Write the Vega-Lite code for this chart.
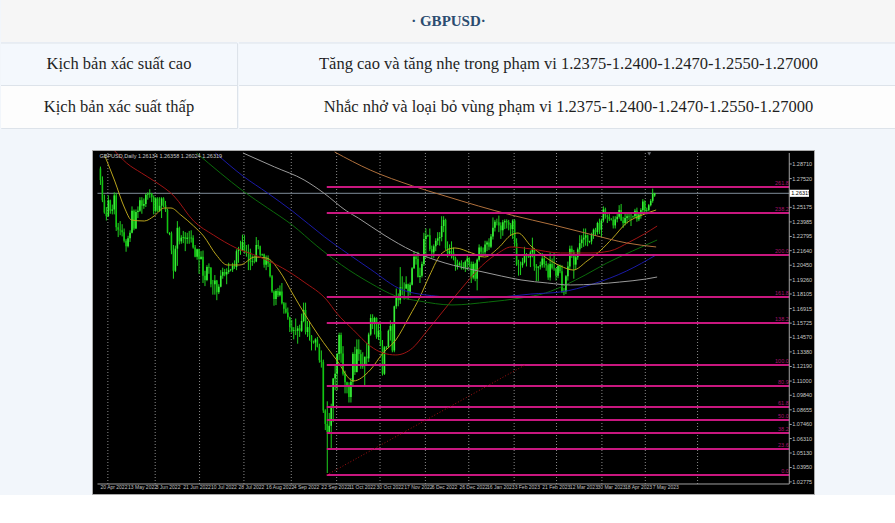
{
"$schema":"https://vega.github.io/schema/vega-lite/v6.json",
"background":"#f2f6fb",
"padding":0,
"config":{"view":{"stroke":null},"font":"Liberation Sans"},
"resolve":{"scale":{"color":"independent"}},
"datasets":{
"bars":[
{"i":0,"o":1.2835,"h":1.285,"l":1.27,"c":1.274},
{"i":1,"o":1.274,"h":1.277,"l":1.256,"c":1.2575},
{"i":2,"o":1.2575,"h":1.262,"l":1.2465,"c":1.2475},
{"i":3,"o":1.2475,"h":1.252,"l":1.241,"c":1.2445},
{"i":4,"o":1.2445,"h":1.2615,"l":1.244,"c":1.2575},
{"i":5,"o":1.2575,"h":1.258,"l":1.2465,"c":1.249},
{"i":6,"o":1.249,"h":1.254,"l":1.246,"c":1.25},
{"i":7,"o":1.25,"h":1.264,"l":1.246,"c":1.2615},
{"i":8,"o":1.2615,"h":1.2635,"l":1.2325,"c":1.2355},
{"i":9,"o":1.2355,"h":1.239,"l":1.2275,"c":1.2335},
{"i":10,"o":1.2335,"h":1.2405,"l":1.229,"c":1.233},
{"i":11,"o":1.233,"h":1.238,"l":1.228,"c":1.2315},
{"i":12,"o":1.2315,"h":1.2345,"l":1.223,"c":1.2245},
{"i":13,"o":1.2245,"h":1.226,"l":1.2155,"c":1.22},
{"i":14,"o":1.22,"h":1.2285,"l":1.219,"c":1.2265},
{"i":15,"o":1.2265,"h":1.233,"l":1.2235,"c":1.231},
{"i":16,"o":1.231,"h":1.2525,"l":1.2305,"c":1.249},
{"i":17,"o":1.249,"h":1.25,"l":1.233,"c":1.2345},
{"i":18,"o":1.2345,"h":1.25,"l":1.234,"c":1.248},
{"i":19,"o":1.248,"h":1.2525,"l":1.243,"c":1.249},
{"i":20,"o":1.249,"h":1.26,"l":1.248,"c":1.2575},
{"i":21,"o":1.2575,"h":1.26,"l":1.2465,"c":1.253},
{"i":22,"o":1.253,"h":1.259,"l":1.2505,"c":1.2545},
{"i":23,"o":1.2545,"h":1.263,"l":1.252,"c":1.262},
{"i":24,"o":1.262,"h":1.264,"l":1.258,"c":1.2625},
{"i":25,"o":1.2625,"h":1.2665,"l":1.2595,"c":1.263},
{"i":26,"o":1.263,"h":1.2635,"l":1.256,"c":1.26},
{"i":27,"o":1.26,"h":1.2615,"l":1.246,"c":1.249},
{"i":28,"o":1.249,"h":1.26,"l":1.2475,"c":1.259},
{"i":29,"o":1.259,"h":1.26,"l":1.248,"c":1.249},
{"i":30,"o":1.249,"h":1.26,"l":1.248,"c":1.253},
{"i":31,"o":1.253,"h":1.26,"l":1.243,"c":1.259},
{"i":32,"o":1.259,"h":1.26,"l":1.252,"c":1.2535},
{"i":33,"o":1.2535,"h":1.257,"l":1.248,"c":1.2495},
{"i":34,"o":1.2495,"h":1.2505,"l":1.2305,"c":1.231},
{"i":35,"o":1.23,"h":1.2315,"l":1.229,"c":1.2305},
{"i":36,"o":1.2305,"h":1.232,"l":1.2135,"c":1.2165},
{"i":37,"o":1.2165,"h":1.221,"l":1.1935,"c":1.2},
{"i":38,"o":1.2,"h":1.2205,"l":1.199,"c":1.218},
{"i":39,"o":1.218,"h":1.2405,"l":1.204,"c":1.235},
{"i":40,"o":1.235,"h":1.236,"l":1.2215,"c":1.224},
{"i":41,"o":1.224,"h":1.229,"l":1.222,"c":1.227},
{"i":42,"o":1.227,"h":1.2325,"l":1.2225,"c":1.2275},
{"i":43,"o":1.2275,"h":1.2315,"l":1.216,"c":1.226},
{"i":44,"o":1.226,"h":1.231,"l":1.222,"c":1.227},
{"i":45,"o":1.227,"h":1.2325,"l":1.222,"c":1.2265},
{"i":46,"o":1.2265,"h":1.233,"l":1.223,"c":1.227},
{"i":47,"o":1.227,"h":1.229,"l":1.218,"c":1.219},
{"i":48,"o":1.219,"h":1.221,"l":1.211,"c":1.2115},
{"i":49,"o":1.2115,"h":1.218,"l":1.209,"c":1.2175},
{"i":50,"o":1.2175,"h":1.218,"l":1.1975,"c":1.2095},
{"i":51,"o":1.2095,"h":1.216,"l":1.209,"c":1.2115},
{"i":52,"o":1.2115,"h":1.2165,"l":1.19,"c":1.196},
{"i":53,"o":1.196,"h":1.2,"l":1.1875,"c":1.1925},
{"i":54,"o":1.1925,"h":1.2045,"l":1.1915,"c":1.203},
{"i":55,"o":1.203,"h":1.206,"l":1.1975,"c":1.2025},
{"i":56,"o":1.2025,"h":1.203,"l":1.1865,"c":1.189},
{"i":57,"o":1.189,"h":1.1925,"l":1.1805,"c":1.189},
{"i":58,"o":1.189,"h":1.1965,"l":1.1805,"c":1.192},
{"i":59,"o":1.192,"h":1.1925,"l":1.176,"c":1.1825},
{"i":60,"o":1.1825,"h":1.189,"l":1.181,"c":1.187},
{"i":61,"o":1.187,"h":1.2005,"l":1.1865,"c":1.196},
{"i":62,"o":1.196,"h":1.2025,"l":1.1935,"c":1.199},
{"i":63,"o":1.199,"h":1.2015,"l":1.1955,"c":1.197},
{"i":64,"o":1.197,"h":1.202,"l":1.189,"c":1.199},
{"i":65,"o":1.199,"h":1.2065,"l":1.1975,"c":1.2005},
{"i":66,"o":1.2005,"h":1.2015,"l":1.1995,"c":1.201},
{"i":67,"o":1.201,"h":1.2065,"l":1.199,"c":1.204},
{"i":68,"o":1.204,"h":1.2085,"l":1.2015,"c":1.203},
{"i":69,"o":1.203,"h":1.2175,"l":1.2005,"c":1.216},
{"i":70,"o":1.216,"h":1.2195,"l":1.2065,"c":1.218},
{"i":71,"o":1.218,"h":1.2245,"l":1.213,"c":1.2165},
{"i":72,"o":1.2165,"h":1.2295,"l":1.216,"c":1.2235},
{"i":73,"o":1.2235,"h":1.229,"l":1.214,"c":1.216},
{"i":74,"o":1.216,"h":1.221,"l":1.2115,"c":1.2145},
{"i":75,"o":1.2145,"h":1.2215,"l":1.2005,"c":1.215},
{"i":76,"o":1.215,"h":1.218,"l":1.2005,"c":1.2075},
{"i":77,"o":1.2075,"h":1.2125,"l":1.204,"c":1.208},
{"i":78,"o":1.208,"h":1.2125,"l":1.206,"c":1.2075},
{"i":79,"o":1.2075,"h":1.2275,"l":1.207,"c":1.221},
{"i":80,"o":1.221,"h":1.225,"l":1.2175,"c":1.22},
{"i":81,"o":1.22,"h":1.2205,"l":1.2115,"c":1.213},
{"i":82,"o":1.213,"h":1.214,"l":1.212,"c":1.2135},
{"i":83,"o":1.2135,"h":1.214,"l":1.2025,"c":1.205},
{"i":84,"o":1.205,"h":1.2125,"l":1.2005,"c":1.21},
{"i":85,"o":1.21,"h":1.2125,"l":1.203,"c":1.206},
{"i":86,"o":1.206,"h":1.2085,"l":1.1945,"c":1.1955},
{"i":87,"o":1.1955,"h":1.1965,"l":1.182,"c":1.183},
{"i":88,"o":1.183,"h":1.184,"l":1.1715,"c":1.177},
{"i":89,"o":1.177,"h":1.185,"l":1.172,"c":1.1835},
{"i":90,"o":1.1835,"h":1.186,"l":1.1785,"c":1.18},
{"i":91,"o":1.18,"h":1.188,"l":1.179,"c":1.183},
{"i":92,"o":1.183,"h":1.19,"l":1.1725,"c":1.1735},
{"i":93,"o":1.1735,"h":1.1745,"l":1.165,"c":1.169},
{"i":94,"o":1.169,"h":1.174,"l":1.165,"c":1.166},
{"i":95,"o":1.166,"h":1.17,"l":1.16,"c":1.162},
{"i":96,"o":1.162,"h":1.1625,"l":1.15,"c":1.154},
{"i":97,"o":1.154,"h":1.16,"l":1.1495,"c":1.151},
{"i":98,"o":1.151,"h":1.154,"l":1.144,"c":1.1515},
{"i":99,"o":1.1515,"h":1.161,"l":1.1475,"c":1.151},
{"i":100,"o":1.151,"h":1.155,"l":1.1405,"c":1.153},
{"i":101,"o":1.153,"h":1.156,"l":1.146,"c":1.151},
{"i":102,"o":1.151,"h":1.165,"l":1.15,"c":1.159},
{"i":103,"o":1.159,"h":1.174,"l":1.158,"c":1.168},
{"i":104,"o":1.168,"h":1.174,"l":1.148,"c":1.15},
{"i":105,"o":1.15,"h":1.159,"l":1.146,"c":1.154},
{"i":106,"o":1.154,"h":1.159,"l":1.143,"c":1.147},
{"i":107,"o":1.147,"h":1.1475,"l":1.135,"c":1.142},
{"i":108,"o":1.142,"h":1.143,"l":1.1405,"c":1.1415},
{"i":109,"o":1.1415,"h":1.145,"l":1.135,"c":1.144},
{"i":110,"o":1.144,"h":1.146,"l":1.1375,"c":1.138},
{"i":111,"o":1.138,"h":1.1405,"l":1.125,"c":1.127},
{"i":112,"o":1.127,"h":1.135,"l":1.121,"c":1.1255},
{"i":113,"o":1.1255,"h":1.1275,"l":1.084,"c":1.086},
{"i":114,"o":1.086,"h":1.087,"l":1.07,"c":1.075},
{"i":115,"o":1.075,"h":1.0935,"l":1.035,"c":1.0685},
{"i":116,"o":1.0685,"h":1.084,"l":1.068,"c":1.0735},
{"i":117,"o":1.0735,"h":1.0915,"l":1.054,"c":1.089},
{"i":118,"o":1.089,"h":1.1125,"l":1.0765,"c":1.112},
{"i":119,"o":1.112,"h":1.1235,"l":1.1025,"c":1.116},
{"i":120,"o":1.116,"h":1.133,"l":1.1025,"c":1.132},
{"i":121,"o":1.132,"h":1.1495,"l":1.127,"c":1.1475},
{"i":122,"o":1.1475,"h":1.1495,"l":1.125,"c":1.1325},
{"i":123,"o":1.1325,"h":1.1385,"l":1.1145,"c":1.116},
{"i":124,"o":1.116,"h":1.1185,"l":1.1,"c":1.109},
{"i":125,"o":1.109,"h":1.1095,"l":1.1,"c":1.106},
{"i":126,"o":1.106,"h":1.109,"l":1.0925,"c":1.097},
{"i":127,"o":1.097,"h":1.1125,"l":1.0925,"c":1.1095},
{"i":128,"o":1.1095,"h":1.1335,"l":1.1055,"c":1.132},
{"i":129,"o":1.132,"h":1.138,"l":1.115,"c":1.1175},
{"i":130,"o":1.1175,"h":1.144,"l":1.117,"c":1.136},
{"i":131,"o":1.136,"h":1.144,"l":1.1265,"c":1.132},
{"i":132,"o":1.132,"h":1.1355,"l":1.12,"c":1.122},
{"i":133,"o":1.122,"h":1.1335,"l":1.12,"c":1.124},
{"i":134,"o":1.124,"h":1.1295,"l":1.106,"c":1.13},
{"i":135,"o":1.13,"h":1.141,"l":1.1235,"c":1.1285},
{"i":136,"o":1.1285,"h":1.1495,"l":1.1255,"c":1.148},
{"i":137,"o":1.148,"h":1.1645,"l":1.147,"c":1.1615},
{"i":138,"o":1.1615,"h":1.1645,"l":1.1525,"c":1.1565},
{"i":139,"o":1.1565,"h":1.1625,"l":1.148,"c":1.1615},
{"i":140,"o":1.1615,"h":1.162,"l":1.1445,"c":1.146},
{"i":141,"o":1.146,"h":1.1565,"l":1.1435,"c":1.151},
{"i":142,"o":1.151,"h":1.1565,"l":1.1385,"c":1.139},
{"i":143,"o":1.139,"h":1.1435,"l":1.1145,"c":1.116},
{"i":144,"o":1.116,"h":1.1385,"l":1.115,"c":1.1375},
{"i":145,"o":1.1375,"h":1.1385,"l":1.136,"c":1.138},
{"i":146,"o":1.138,"h":1.152,"l":1.137,"c":1.151},
{"i":147,"o":1.151,"h":1.1595,"l":1.143,"c":1.155},
{"i":148,"o":1.155,"h":1.1565,"l":1.1335,"c":1.135},
{"i":149,"o":1.135,"h":1.1715,"l":1.1335,"c":1.171},
{"i":150,"o":1.171,"h":1.1855,"l":1.169,"c":1.179},
{"i":151,"o":1.179,"h":1.1815,"l":1.171,"c":1.176},
{"i":152,"o":1.176,"h":1.203,"l":1.173,"c":1.1865},
{"i":153,"o":1.1865,"h":1.1955,"l":1.18,"c":1.1855},
{"i":154,"o":1.1855,"h":1.1905,"l":1.1765,"c":1.1855},
{"i":155,"o":1.1855,"h":1.1955,"l":1.185,"c":1.189},
{"i":156,"o":1.189,"h":1.1895,"l":1.1765,"c":1.1825},
{"i":157,"o":1.1825,"h":1.1905,"l":1.18,"c":1.1885},
{"i":158,"o":1.1885,"h":1.203,"l":1.188,"c":1.202},
{"i":159,"o":1.202,"h":1.2155,"l":1.2015,"c":1.2115},
{"i":160,"o":1.2115,"h":1.2125,"l":1.205,"c":1.2095},
{"i":161,"o":1.2095,"h":1.2155,"l":1.1945,"c":1.195},
{"i":162,"o":1.195,"h":1.2025,"l":1.19,"c":1.196},
{"i":163,"o":1.196,"h":1.2075,"l":1.1945,"c":1.2055},
{"i":164,"o":1.2055,"h":1.231,"l":1.204,"c":1.226},
{"i":165,"o":1.226,"h":1.2345,"l":1.2105,"c":1.2285},
{"i":166,"o":1.2285,"h":1.2295,"l":1.2275,"c":1.229},
{"i":167,"o":1.229,"h":1.2345,"l":1.216,"c":1.2175},
{"i":168,"o":1.2175,"h":1.2205,"l":1.2105,"c":1.215},
{"i":169,"o":1.215,"h":1.2215,"l":1.2105,"c":1.22},
{"i":170,"o":1.22,"h":1.2265,"l":1.216,"c":1.2245},
{"i":171,"o":1.2245,"h":1.2315,"l":1.221,"c":1.2265},
{"i":172,"o":1.2265,"h":1.2315,"l":1.2205,"c":1.2275},
{"i":173,"o":1.2275,"h":1.2445,"l":1.224,"c":1.2365},
{"i":174,"o":1.2365,"h":1.2445,"l":1.2315,"c":1.2415},
{"i":175,"o":1.2415,"h":1.2425,"l":1.217,"c":1.2185},
{"i":176,"o":1.2185,"h":1.224,"l":1.211,"c":1.214},
{"i":177,"o":1.214,"h":1.2215,"l":1.2125,"c":1.216},
{"i":178,"o":1.216,"h":1.224,"l":1.21,"c":1.215},
{"i":179,"o":1.215,"h":1.219,"l":1.2085,"c":1.2105},
{"i":180,"o":1.2105,"h":1.2115,"l":1.2,"c":1.2035},
{"i":181,"o":1.2035,"h":1.209,"l":1.201,"c":1.205},
{"i":182,"o":1.205,"h":1.2075,"l":1.204,"c":1.206},
{"i":183,"o":1.206,"h":1.2085,"l":1.201,"c":1.203},
{"i":184,"o":1.203,"h":1.207,"l":1.201,"c":1.2025},
{"i":185,"o":1.2025,"h":1.2085,"l":1.199,"c":1.2075},
{"i":186,"o":1.2075,"h":1.2125,"l":1.2005,"c":1.21},
{"i":187,"o":1.21,"h":1.211,"l":1.203,"c":1.2055},
{"i":188,"o":1.2055,"h":1.2075,"l":1.19,"c":1.1945},
{"i":189,"o":1.1945,"h":1.2075,"l":1.193,"c":1.2055},
{"i":190,"o":1.2055,"h":1.2065,"l":1.1915,"c":1.1935},
{"i":191,"o":1.1935,"h":1.21,"l":1.184,"c":1.209},
{"i":192,"o":1.209,"h":1.2215,"l":1.2075,"c":1.219},
{"i":193,"o":1.219,"h":1.22,"l":1.211,"c":1.2155},
{"i":194,"o":1.2155,"h":1.219,"l":1.212,"c":1.215},
{"i":195,"o":1.215,"h":1.2245,"l":1.2125,"c":1.2215},
{"i":196,"o":1.2215,"h":1.2245,"l":1.216,"c":1.223},
{"i":197,"o":1.223,"h":1.2265,"l":1.217,"c":1.2195},
{"i":198,"o":1.2195,"h":1.23,"l":1.2185,"c":1.228},
{"i":199,"o":1.228,"h":1.2435,"l":1.2255,"c":1.235},
{"i":200,"o":1.235,"h":1.2415,"l":1.232,"c":1.24},
{"i":201,"o":1.24,"h":1.2425,"l":1.237,"c":1.2395},
{"i":202,"o":1.2395,"h":1.245,"l":1.2315,"c":1.237},
{"i":203,"o":1.237,"h":1.2395,"l":1.226,"c":1.233},
{"i":204,"o":1.233,"h":1.2415,"l":1.2285,"c":1.2395},
{"i":205,"o":1.2395,"h":1.242,"l":1.234,"c":1.2405},
{"i":206,"o":1.2405,"h":1.242,"l":1.2345,"c":1.2395},
{"i":207,"o":1.2395,"h":1.2415,"l":1.233,"c":1.2375},
{"i":208,"o":1.2375,"h":1.239,"l":1.2285,"c":1.234},
{"i":209,"o":1.234,"h":1.242,"l":1.226,"c":1.241},
{"i":210,"o":1.241,"h":1.242,"l":1.2195,"c":1.2225},
{"i":211,"o":1.2225,"h":1.2265,"l":1.204,"c":1.205},
{"i":212,"o":1.205,"h":1.209,"l":1.196,"c":1.205},
{"i":213,"o":1.205,"h":1.2075,"l":1.1965,"c":1.2045},
{"i":214,"o":1.2045,"h":1.2105,"l":1.2025,"c":1.207},
{"i":215,"o":1.207,"h":1.2195,"l":1.206,"c":1.212},
{"i":216,"o":1.212,"h":1.2145,"l":1.2035,"c":1.212},
{"i":217,"o":1.212,"h":1.2125,"l":1.2105,"c":1.211},
{"i":218,"o":1.211,"h":1.2165,"l":1.203,"c":1.215},
{"i":219,"o":1.215,"h":1.227,"l":1.211,"c":1.2175},
{"i":220,"o":1.2175,"h":1.2185,"l":1.2,"c":1.2035},
{"i":221,"o":1.2035,"h":1.2055,"l":1.1915,"c":1.2025},
{"i":222,"o":1.2025,"h":1.2035,"l":1.1915,"c":1.2035},
{"i":223,"o":1.2035,"h":1.2075,"l":1.201,"c":1.2045},
{"i":224,"o":1.2045,"h":1.2145,"l":1.2025,"c":1.21},
{"i":225,"o":1.21,"h":1.211,"l":1.2025,"c":1.2055},
{"i":226,"o":1.2055,"h":1.208,"l":1.2,"c":1.2045},
{"i":227,"o":1.2045,"h":1.206,"l":1.1925,"c":1.1945},
{"i":228,"o":1.1945,"h":1.215,"l":1.192,"c":1.2055},
{"i":229,"o":1.2055,"h":1.21,"l":1.201,"c":1.2025},
{"i":230,"o":1.2025,"h":1.2145,"l":1.2,"c":1.202},
{"i":231,"o":1.202,"h":1.202,"l":1.192,"c":1.196},
{"i":232,"o":1.196,"h":1.2045,"l":1.194,"c":1.204},
{"i":233,"o":1.204,"h":1.205,"l":1.198,"c":1.1995},
{"i":234,"o":1.1995,"h":1.2045,"l":1.182,"c":1.1825},
{"i":235,"o":1.1825,"h":1.186,"l":1.18,"c":1.183},
{"i":236,"o":1.183,"h":1.1965,"l":1.181,"c":1.1955},
{"i":237,"o":1.1955,"h":1.2075,"l":1.192,"c":1.2035},
{"i":238,"o":1.2035,"h":1.2205,"l":1.201,"c":1.218},
{"i":239,"o":1.218,"h":1.2205,"l":1.2105,"c":1.215},
{"i":240,"o":1.215,"h":1.217,"l":1.1935,"c":1.205},
{"i":241,"o":1.205,"h":1.2125,"l":1.201,"c":1.211},
{"i":242,"o":1.211,"h":1.219,"l":1.209,"c":1.2175},
{"i":243,"o":1.2175,"h":1.229,"l":1.213,"c":1.2225},
{"i":244,"o":1.2225,"h":1.229,"l":1.2185,"c":1.2255},
{"i":245,"o":1.2255,"h":1.2345,"l":1.2195,"c":1.227},
{"i":246,"o":1.227,"h":1.2345,"l":1.2205,"c":1.229},
{"i":247,"o":1.229,"h":1.2295,"l":1.22,"c":1.2235},
{"i":248,"o":1.2235,"h":1.2245,"l":1.2225,"c":1.224},
{"i":249,"o":1.224,"h":1.231,"l":1.2215,"c":1.2295},
{"i":250,"o":1.2295,"h":1.2345,"l":1.226,"c":1.2335},
{"i":251,"o":1.2335,"h":1.235,"l":1.2285,"c":1.2315},
{"i":252,"o":1.2315,"h":1.24,"l":1.2295,"c":1.239},
{"i":253,"o":1.239,"h":1.2425,"l":1.23,"c":1.2335},
{"i":254,"o":1.2335,"h":1.2425,"l":1.2275,"c":1.241},
{"i":255,"o":1.241,"h":1.2525,"l":1.2395,"c":1.25},
{"i":256,"o":1.25,"h":1.2515,"l":1.2425,"c":1.245},
{"i":257,"o":1.245,"h":1.246,"l":1.239,"c":1.244},
{"i":258,"o":1.244,"h":1.2475,"l":1.2405,"c":1.242},
{"i":259,"o":1.242,"h":1.243,"l":1.241,"c":1.2415},
{"i":260,"o":1.2415,"h":1.2445,"l":1.2345,"c":1.237},
{"i":261,"o":1.237,"h":1.2445,"l":1.2345,"c":1.242},
{"i":262,"o":1.242,"h":1.247,"l":1.2395,"c":1.244},
{"i":263,"o":1.244,"h":1.2535,"l":1.2425,"c":1.2495},
{"i":264,"o":1.2495,"h":1.2545,"l":1.2405,"c":1.241},
{"i":265,"o":1.241,"h":1.244,"l":1.235,"c":1.239},
{"i":266,"o":1.239,"h":1.2475,"l":1.237,"c":1.243},
{"i":267,"o":1.243,"h":1.247,"l":1.2385,"c":1.2445},
{"i":268,"o":1.2445,"h":1.2475,"l":1.2415,"c":1.244},
{"i":269,"o":1.244,"h":1.2475,"l":1.2365,"c":1.244},
{"i":270,"o":1.244,"h":1.245,"l":1.243,"c":1.2445},
{"i":271,"o":1.2445,"h":1.2505,"l":1.243,"c":1.249},
{"i":272,"o":1.249,"h":1.2515,"l":1.24,"c":1.242},
{"i":273,"o":1.242,"h":1.2475,"l":1.2405,"c":1.246},
{"i":274,"o":1.246,"h":1.251,"l":1.2425,"c":1.2495},
{"i":275,"o":1.2495,"h":1.2585,"l":1.248,"c":1.2565},
{"i":276,"o":1.2565,"h":1.2575,"l":1.2465,"c":1.249},
{"i":277,"o":1.249,"h":1.2515,"l":1.246,"c":1.2495},
{"i":278,"o":1.2495,"h":1.2545,"l":1.2485,"c":1.2535},
{"i":279,"o":1.2535,"h":1.2585,"l":1.2525,"c":1.257},
{"i":280,"o":1.257,"h":1.267,"l":1.2555,"c":1.263},
{"i":281,"o":1.26134,"h":1.26358,"l":1.26024,"c":1.26319}
],
"ma":[
{"m":"ma20","i":2.25,"p":1.2936},{"m":"ma20","i":7.25,"p":1.2732},{"m":"ma20","i":12.25,"p":1.2512},{"m":"ma20","i":15.75,"p":1.2414},{"m":"ma20","i":22.25,"p":1.2406},{"m":"ma20","i":27.25,"p":1.2447},{"m":"ma20","i":32.25,"p":1.2512},{"m":"ma20","i":35.75,"p":1.2512},{"m":"ma20","i":40.75,"p":1.2455},{"m":"ma20","i":47.25,"p":1.2365},{"m":"ma20","i":52.25,"p":1.2284},{"m":"ma20","i":58.75,"p":1.2129},{"m":"ma20","i":64.25,"p":1.2047},{"m":"ma20","i":70.75,"p":1.2047},{"m":"ma20","i":78.25,"p":1.2112},{"m":"ma20","i":84.25,"p":1.2104},{"m":"ma20","i":90.75,"p":1.1998},{"m":"ma20","i":97.25,"p":1.1819},{"m":"ma20","i":103.25,"p":1.1655},{"m":"ma20","i":110.75,"p":1.1468},{"m":"ma20","i":119.75,"p":1.1272},{"m":"ma20","i":128.25,"p":1.1101},{"m":"ma20","i":136.75,"p":1.119},{"m":"ma20","i":143.25,"p":1.1329},{"m":"ma20","i":149.75,"p":1.1435},{"m":"ma20","i":156.75,"p":1.1631},{"m":"ma20","i":161.75,"p":1.1778},{"m":"ma20","i":166.75,"p":1.1957},{"m":"ma20","i":173.25,"p":1.2145},{"m":"ma20","i":179.75,"p":1.2186},{"m":"ma20","i":188.25,"p":1.2145},{"m":"ma20","i":194.75,"p":1.2112},{"m":"ma20","i":201.75,"p":1.2186},{"m":"ma20","i":208.25,"p":1.2292},{"m":"ma20","i":211.75,"p":1.2308},{"m":"ma20","i":218.25,"p":1.2202},{"m":"ma20","i":224.75,"p":1.212},{"m":"ma20","i":233.25,"p":1.2039},{"m":"ma20","i":239.75,"p":1.2006},{"m":"ma20","i":246.75,"p":1.208},{"m":"ma20","i":253.25,"p":1.2161},{"m":"ma20","i":259.75,"p":1.2267},{"m":"ma20","i":266.75,"p":1.239},{"m":"ma20","i":274.75,"p":1.2455},{"m":"ma20","i":281.75,"p":1.2496},
{"m":"ma50","i":7.25,"p":1.2977},{"m":"ma50","i":13.25,"p":1.2879},{"m":"ma50","i":20.75,"p":1.2798},{"m":"ma50","i":27.25,"p":1.2732},{"m":"ma50","i":37.25,"p":1.261},{"m":"ma50","i":47.25,"p":1.2406},{"m":"ma50","i":57.25,"p":1.2292},{"m":"ma50","i":68.75,"p":1.2186},{"m":"ma50","i":80.75,"p":1.2112},{"m":"ma50","i":92.25,"p":1.2023},{"m":"ma50","i":103.25,"p":1.1908},{"m":"ma50","i":114.75,"p":1.1761},{"m":"ma50","i":119.75,"p":1.1655},{"m":"ma50","i":128.25,"p":1.1517},{"m":"ma50","i":136.75,"p":1.1386},{"m":"ma50","i":143.25,"p":1.1329},{"m":"ma50","i":149.75,"p":1.1313},{"m":"ma50","i":158.25,"p":1.137},{"m":"ma50","i":164.75,"p":1.1492},{"m":"ma50","i":171.75,"p":1.1631},{"m":"ma50","i":178.25,"p":1.1761},{"m":"ma50","i":186.75,"p":1.1925},{"m":"ma50","i":193.25,"p":1.2039},{"m":"ma50","i":201.75,"p":1.2145},{"m":"ma50","i":208.25,"p":1.2194},{"m":"ma50","i":218.25,"p":1.2178},{"m":"ma50","i":233.25,"p":1.2145},{"m":"ma50","i":248.25,"p":1.2145},{"m":"ma50","i":258.25,"p":1.2161},{"m":"ma50","i":268.25,"p":1.2235},{"m":"ma50","i":275.75,"p":1.23},{"m":"ma50","i":282.25,"p":1.2365},
{"m":"ma100","i":48.75,"p":1.2961},{"m":"ma100","i":60.75,"p":1.2798},{"m":"ma100","i":72.25,"p":1.2651},{"m":"ma100","i":84.75,"p":1.2512},{"m":"ma100","i":97.25,"p":1.2373},{"m":"ma100","i":109.75,"p":1.2202},{"m":"ma100","i":122.25,"p":1.2047},{"m":"ma100","i":136.75,"p":1.19},{"m":"ma100","i":149.75,"p":1.1794},{"m":"ma100","i":161.75,"p":1.1753},{"m":"ma100","i":178.25,"p":1.1721},{"m":"ma100","i":196.75,"p":1.1745},{"m":"ma100","i":213.25,"p":1.1778},{"m":"ma100","i":225.75,"p":1.1819},{"m":"ma100","i":235.75,"p":1.1884},{"m":"ma100","i":245.75,"p":1.1965},{"m":"ma100","i":256.75,"p":1.2063},{"m":"ma100","i":269.75,"p":1.2161},{"m":"ma100","i":282.25,"p":1.2251},
{"m":"ma150","i":58.25,"p":1.2961},{"m":"ma150","i":72.25,"p":1.2773},{"m":"ma150","i":84.75,"p":1.2634},{"m":"ma150","i":97.25,"p":1.2488},{"m":"ma150","i":113.75,"p":1.2275},{"m":"ma150","i":130.75,"p":1.208},{"m":"ma150","i":136.75,"p":1.2014},{"m":"ma150","i":153.25,"p":1.1843},{"m":"ma150","i":169.75,"p":1.1794},{"m":"ma150","i":186.75,"p":1.1778},{"m":"ma150","i":203.25,"p":1.1786},{"m":"ma150","i":218.25,"p":1.181},{"m":"ma150","i":233.25,"p":1.1827},{"m":"ma150","i":249.75,"p":1.1892},{"m":"ma150","i":266.75,"p":1.1998},{"m":"ma150","i":281.75,"p":1.2129},
{"m":"ma200","i":72.25,"p":1.2961},{"m":"ma200","i":88.25,"p":1.2847},{"m":"ma200","i":103.25,"p":1.2741},{"m":"ma200","i":113.25,"p":1.2634},{"m":"ma200","i":124.75,"p":1.2488},{"m":"ma200","i":130.75,"p":1.243},{"m":"ma200","i":143.75,"p":1.2292},{"m":"ma200","i":158.25,"p":1.2161},{"m":"ma200","i":174.75,"p":1.2063},{"m":"ma200","i":191.75,"p":1.1998},{"m":"ma200","i":203.25,"p":1.1957},{"m":"ma200","i":213.25,"p":1.1925},{"m":"ma200","i":226.75,"p":1.19},{"m":"ma200","i":238.25,"p":1.1884},{"m":"ma200","i":251.75,"p":1.1892},{"m":"ma200","i":263.25,"p":1.1908},{"m":"ma200","i":276.75,"p":1.1933},{"m":"ma200","i":282.25,"p":1.1949},
{"m":"ma365","i":118.75,"p":1.2969},{"m":"ma365","i":136.75,"p":1.2822},{"m":"ma365","i":158.25,"p":1.2692},{"m":"ma365","i":174.75,"p":1.261},{"m":"ma365","i":191.75,"p":1.2528},{"m":"ma365","i":208.25,"p":1.2455},{"m":"ma365","i":229.75,"p":1.2373},{"m":"ma365","i":249.75,"p":1.2292},{"m":"ma365","i":266.75,"p":1.2227},{"m":"ma365","i":281.75,"p":1.2194}
],
"fib":[
{"lv":"0.0","p":1.0334},{"lv":"23.6","p":1.0546},{"lv":"38.2","p":1.0677},{"lv":"50.0","p":1.0783},{"lv":"61.8","p":1.0889},{"lv":"80.9","p":1.106},{"lv":"100.0","p":1.1231},{"lv":"138.2","p":1.1574},{"lv":"161.8","p":1.1786},{"lv":"200.0","p":1.2129},{"lv":"238.2","p":1.2472},{"lv":"261.8","p":1.2683}
],
"grid":[{"i":3.75},{"i":27.75},{"i":50.25},{"i":72.75},{"i":96.75},{"i":119.75},{"i":141.75},{"i":164.75},{"i":186.75},{"i":209.75},{"i":231.25},{"i":254.25},{"i":276.25},{"i":302.75}],
"dates":[{"i":0,"d":"20 Apr 2022"},{"i":14,"d":"13 May 2022"},{"i":28,"d":"3 Jun 2022"},{"i":42,"d":"21 Jun 2022"},{"i":56,"d":"10 Jul 2022"},{"i":70,"d":"28 Jul 2022"},{"i":84,"d":"16 Aug 2022"},{"i":98,"d":"4 Sep 2022"},{"i":112,"d":"22 Sep 2022"},{"i":126,"d":"11 Oct 2022"},{"i":140,"d":"30 Oct 2022"},{"i":154,"d":"17 Nov 2022"},{"i":168,"d":"6 Dec 2022"},{"i":182,"d":"26 Dec 2022"},{"i":196,"d":"16 Jan 2023"},{"i":210,"d":"3 Feb 2023"},{"i":224,"d":"21 Feb 2023"},{"i":238,"d":"12 Mar 2023"},{"i":252,"d":"30 Mar 2023"},{"i":266,"d":"18 Apr 2023"},{"i":280,"d":"7 May 2023"}],
"yt":[{"v":1.2871},{"v":1.2752},{"v":1.25175},{"v":1.23985},{"v":1.22795},{"v":1.2164},{"v":1.2045},{"v":1.1926},{"v":1.18105},{"v":1.16915},{"v":1.15725},{"v":1.1457},{"v":1.1338},{"v":1.1219},{"v":1.11},{"v":1.0984},{"v":1.08655},{"v":1.0746},{"v":1.0631},{"v":1.0513},{"v":1.0395},{"v":1.02775}],
"last":[{"p":1.26319,"lab":"1.26319","info":"GBPUSD,Daily  1.26134 1.26358 1.26024 1.26319"}]
},
"spacing":20,
"vconcat":[
{"spacing":0,"vconcat":[
 {"width":895,"height":42,"view":{"fill":"#f6f6f6","stroke":null},
  "data":{"values":[{"t":"· GBPUSD·"}]},
  "mark":{"type":"text","font":"Liberation Serif","fontWeight":"bold","fontSize":15,"color":"#2b4c70"},
  "encoding":{"text":{"field":"t"}}},
 {"spacing":0,"hconcat":[
  {"width":236,"height":85,"view":{"stroke":"#dde3ea"},
   "data":{"values":[{"r":1,"t":"Kịch bản xác suất cao"},{"r":2,"t":"Kịch bản xác suất thấp"}]},
   "layer":[
    {"mark":{"type":"rect"},"encoding":{"y":{"field":"r","type":"ordinal","axis":null,"scale":{"paddingInner":0,"paddingOuter":0}},"x":{"value":0},"x2":{"value":"width"},"color":{"condition":{"test":"datum.r == 1","value":"#f4f8fd"},"value":"#fdfdfd"}}},
    {"mark":{"type":"rule","color":"#dde3ea"},"encoding":{"y":{"field":"r","type":"ordinal","bandPosition":0,"axis":null}}},
    {"mark":{"type":"text","font":"Liberation Serif","fontSize":16.5,"color":"#1f1f1f"},"encoding":{"y":{"field":"r","type":"ordinal","axis":null},"text":{"field":"t"}}}
   ]},
  {"width":659,"height":85,"view":{"stroke":"#dde3ea"},
   "data":{"values":[{"r":1,"t":"Tăng cao và tăng nhẹ trong phạm vi 1.2375-1.2400-1.2470-1.2550-1.27000"},{"r":2,"t":"Nhắc nhở và loại bỏ vùng phạm vi 1.2375-1.2400-1.2470-1.2550-1.27000"}]},
   "layer":[
    {"mark":{"type":"rect"},"encoding":{"y":{"field":"r","type":"ordinal","axis":null,"scale":{"paddingInner":0,"paddingOuter":0}},"x":{"value":0},"x2":{"value":"width"},"color":{"condition":{"test":"datum.r == 1","value":"#f4f8fd"},"value":"#fdfdfd"}}},
    {"mark":{"type":"rule","color":"#dde3ea"},"encoding":{"y":{"field":"r","type":"ordinal","bandPosition":0,"axis":null}}},
    {"mark":{"type":"text","font":"Liberation Serif","fontSize":16.5,"color":"#1f1f1f"},"encoding":{"y":{"field":"r","type":"ordinal","axis":null},"text":{"field":"t"}}}
   ]}
 ]}
]},
{"spacing":0,"hconcat":[
 {"width":90,"height":344,"data":{"values":[{"t":""}]},"mark":"text","encoding":{"text":{"field":"t"}}},
 {"width":722,"height":344,"view":{"fill":"#000000","stroke":"#a9a9a9"},
  "layer":[
   {"data":{"name":"grid"},"mark":{"type":"rule","color":"#8a8a8a","strokeDash":[1,2],"strokeWidth":1},
    "encoding":{"x":{"field":"i","type":"quantitative","scale":{"domain":[-1.75,359.25],"nice":false,"zero":false},"axis":null},
     "y":{"datum":1.29607,"type":"quantitative","scale":{"domain":[1.01787,1.29852],"nice":false,"zero":false},"axis":null},"y2":{"datum":1.02603}}},
   {"data":{"name":"last"},"mark":{"type":"rule","color":"#7f8c99","strokeWidth":1},
    "encoding":{"y":{"field":"p","type":"quantitative","scale":{"domain":[1.01787,1.29852],"nice":false,"zero":false},"axis":null},
     "x":{"datum":-1.5,"type":"quantitative","scale":{"domain":[-1.75,359.25],"nice":false,"zero":false},"axis":null},"x2":{"datum":349.25}}},
   {"data":{"name":"bars"},"mark":{"type":"rule","color":"#1fd21f","strokeWidth":1},
    "encoding":{"x":{"field":"i","type":"quantitative","scale":{"domain":[-1.75,359.25],"nice":false,"zero":false},"axis":null},
     "y":{"field":"l","type":"quantitative","scale":{"domain":[1.01787,1.29852],"nice":false,"zero":false},"axis":null},
     "y2":{"field":"h"}}},
   {"data":{"name":"bars"},"mark":{"type":"bar","size":1.6},
    "encoding":{"x":{"field":"i","type":"quantitative","scale":{"domain":[-1.75,359.25],"nice":false,"zero":false},"axis":null},
     "y":{"field":"o","type":"quantitative","scale":{"domain":[1.01787,1.29852],"nice":false,"zero":false},"axis":null},
     "y2":{"field":"c"},
     "color":{"condition":{"test":"datum.c >= datum.o","value":"#38f038"},"value":"#12c412"}}},
   {"data":{"name":"ma"},"mark":{"type":"line","strokeWidth":1,"interpolate":"monotone","clip":true},
    "encoding":{"x":{"field":"i","type":"quantitative","scale":{"domain":[-1.75,359.25],"nice":false,"zero":false},"axis":null},
     "y":{"field":"p","type":"quantitative","scale":{"domain":[1.01787,1.29852],"nice":false,"zero":false},"axis":null},
     "color":{"field":"m","type":"nominal","legend":null,"scale":{"domain":["ma20","ma50","ma100","ma150","ma200","ma365"],"range":["#b9a41c","#a01414","#0b6b0b","#1a1aa6","#9a9a9a","#b0703c"]}}}},
   {"data":{"name":"fib"},"mark":{"type":"rule","color":"#c8177f","strokeWidth":2},
    "encoding":{"y":{"field":"p","type":"quantitative","scale":{"domain":[1.01787,1.29852],"nice":false,"zero":false},"axis":null},
     "x":{"datum":114.75,"type":"quantitative","scale":{"domain":[-1.75,359.25],"nice":false,"zero":false},"axis":null},"x2":{"datum":349.25}}},
   {"data":{"name":"fib"},"mark":{"type":"text","color":"#a8126c","fontSize":5.5,"align":"right","baseline":"bottom","dy":-1,"font":"Liberation Sans"},
    "encoding":{"y":{"field":"p","type":"quantitative","scale":{"domain":[1.01787,1.29852],"nice":false,"zero":false},"axis":null},
     "x":{"datum":349,"type":"quantitative","scale":{"domain":[-1.75,359.25],"nice":false,"zero":false},"axis":null},"text":{"field":"lv"}}},
   {"data":{"name":"last"},"mark":{"type":"rule","color":"#a01010","strokeDash":[1,2],"strokeWidth":1},
    "encoding":{"x":{"datum":114.75,"type":"quantitative","scale":{"domain":[-1.75,359.25],"nice":false,"zero":false},"axis":null},
     "y":{"datum":1.0334,"type":"quantitative","scale":{"domain":[1.01787,1.29852],"nice":false,"zero":false},"axis":null},
     "x2":{"datum":215.25},"y2":{"datum":1.1231}}},
   {"data":{"name":"last"},"mark":{"type":"rule","color":"#a0a0a0","strokeWidth":1},
    "encoding":{"x":{"datum":349.25,"type":"quantitative","scale":{"domain":[-1.75,359.25],"nice":false,"zero":false},"axis":null},
     "y":{"datum":1.29607,"type":"quantitative","scale":{"domain":[1.01787,1.29852],"nice":false,"zero":false},"axis":null},"y2":{"datum":1.02603}}},
   {"data":{"name":"last"},"mark":{"type":"rule","color":"#a0a0a0","strokeWidth":1},
    "encoding":{"x":{"datum":-1.5,"type":"quantitative","scale":{"domain":[-1.75,359.25],"nice":false,"zero":false},"axis":null},"x2":{"datum":349.25},
     "y":{"datum":1.02603,"type":"quantitative","scale":{"domain":[1.01787,1.29852],"nice":false,"zero":false},"axis":null}}},
   {"data":{"name":"yt"},"mark":{"type":"rule","color":"#a0a0a0","strokeWidth":1},
    "encoding":{"x":{"datum":349.25,"type":"quantitative","scale":{"domain":[-1.75,359.25],"nice":false,"zero":false},"axis":null},"x2":{"datum":350.5},
     "y":{"field":"v","type":"quantitative","scale":{"domain":[1.01787,1.29852],"nice":false,"zero":false},"axis":null}}},
   {"data":{"name":"yt"},"mark":{"type":"text","color":"#c8c8c8","fontSize":5.5,"align":"left","font":"Liberation Sans"},
    "encoding":{"x":{"datum":350.75,"type":"quantitative","scale":{"domain":[-1.75,359.25],"nice":false,"zero":false},"axis":null},
     "y":{"field":"v","type":"quantitative","scale":{"domain":[1.01787,1.29852],"nice":false,"zero":false},"axis":null},
     "text":{"field":"v","type":"quantitative","format":".5f"}}},
   {"data":{"name":"last"},"mark":{"type":"rect","color":"#ffffff"},
    "encoding":{"x":{"datum":349.5,"type":"quantitative","scale":{"domain":[-1.75,359.25],"nice":false,"zero":false},"axis":null},"x2":{"datum":359.25},
     "y":{"datum":1.2661,"type":"quantitative","scale":{"domain":[1.01787,1.29852],"nice":false,"zero":false},"axis":null},"y2":{"datum":1.2603}}},
   {"data":{"name":"last"},"mark":{"type":"text","color":"#000000","fontSize":5.5,"align":"left","font":"Liberation Sans"},
    "encoding":{"x":{"datum":350.25,"type":"quantitative","scale":{"domain":[-1.75,359.25],"nice":false,"zero":false},"axis":null},
     "y":{"field":"p","type":"quantitative","scale":{"domain":[1.01787,1.29852],"nice":false,"zero":false},"axis":null},"text":{"field":"lab"}}},
   {"data":{"name":"last"},"mark":{"type":"text","color":"#c8c8c8","fontSize":5.5,"align":"left","font":"Liberation Sans"},
    "encoding":{"x":{"datum":-0.5,"type":"quantitative","scale":{"domain":[-1.75,359.25],"nice":false,"zero":false},"axis":null},
     "y":{"datum":1.29363,"type":"quantitative","scale":{"domain":[1.01787,1.29852],"nice":false,"zero":false},"axis":null},"text":{"field":"info"}}},
   {"data":{"name":"last"},"mark":{"type":"point","shape":"triangle-down","filled":true,"size":14,"color":"#9aa0a8"},
    "encoding":{"x":{"datum":278.25,"type":"quantitative","scale":{"domain":[-1.75,359.25],"nice":false,"zero":false},"axis":null},
     "y":{"datum":1.2953,"type":"quantitative","scale":{"domain":[1.01787,1.29852],"nice":false,"zero":false},"axis":null}}},
   {"data":{"name":"dates"},"mark":{"type":"text","color":"#c0c0c0","fontSize":5,"align":"left","font":"Liberation Sans"},
    "encoding":{"x":{"field":"i","type":"quantitative","scale":{"domain":[-1.75,359.25],"nice":false,"zero":false},"axis":null},
     "y":{"datum":1.0236,"type":"quantitative","scale":{"domain":[1.01787,1.29852],"nice":false,"zero":false},"axis":null},"text":{"field":"d"}}}
  ]}
]}
]
}
